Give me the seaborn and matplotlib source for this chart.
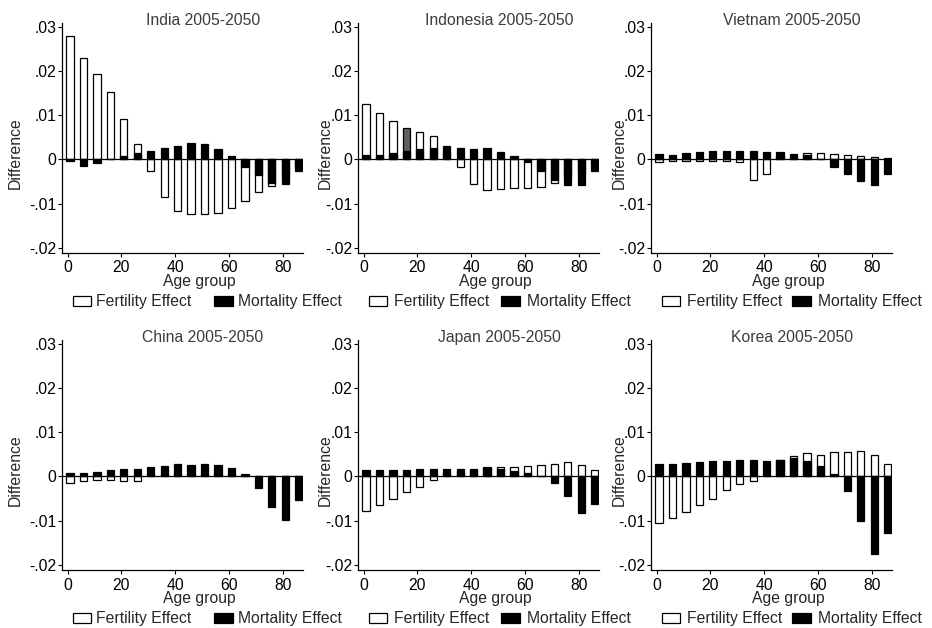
import numpy as np
import matplotlib
matplotlib.use("Agg")
import matplotlib.pyplot as plt
from matplotlib.patches import Patch
import seaborn as sns

# age groups (start of each 5-year band)
ages = [0, 5, 10, 15, 20, 25, 30, 35, 40, 45, 50, 55, 60, 65, 70, 75, 80, 85]

india_fert = [0.0279, 0.0229, 0.0194, 0.0152, 0.0092, 0.0034, -0.0025, -0.0084, -0.0117,
              -0.0123, -0.0123, -0.0120, -0.0109, -0.0094, -0.0074, -0.0059, -0.0040, -0.0015]
india_mort = [-0.0004, -0.0014, -0.0008, 0.0002, 0.0009, 0.0014, 0.0020, 0.0026, 0.0030,
              0.0038, 0.0035, 0.0024, 0.0007, -0.0017, -0.0036, -0.0054, -0.0055, -0.0027]

indonesia_fert = [0.0125, 0.0105, 0.0086, 0.0071, 0.0062, 0.0053, 0.0015, -0.0018, -0.0056,
                  -0.0069, -0.0067, -0.0065, -0.0065, -0.0062, -0.0053, -0.0040, -0.0030, -0.0010]
indonesia_mort = [0.0011, 0.0010, 0.0014, 0.0019, 0.0023, 0.0025, 0.0030, 0.0026, 0.0024,
                  0.0025, 0.0017, 0.0008, -0.0006, -0.0026, -0.0047, -0.0058, -0.0058, -0.0026]

vietnam_fert = [-0.0005, -0.0003, -0.0003, -0.0003, -0.0003, -0.0003, -0.0005, -0.0047, -0.0033,
                0.0008, 0.0006, 0.0014, 0.0014, 0.0012, 0.0011, 0.0009, 0.0006, 0.0003]
vietnam_mort = [0.0012, 0.0011, 0.0014, 0.0016, 0.0019, 0.0019, 0.0020, 0.0020, 0.0017,
                0.0017, 0.0013, 0.0010, 0.0001, -0.0017, -0.0032, -0.0049, -0.0058, -0.0032]

china_fert = [-0.0014, -0.0011, -0.0009, -0.0008, -0.0010, -0.0011, 0.0005, 0.0005, 0.0005,
              0.0005, 0.0005, 0.0005, 0.0005, 0.0002, 0.0, 0.0, 0.0, 0.0]
china_mort = [0.0008, 0.0008, 0.0011, 0.0014, 0.0016, 0.0017, 0.0021, 0.0023, 0.0028,
              0.0027, 0.0029, 0.0027, 0.0019, 0.0005, -0.0026, -0.0069, -0.0099, -0.0053]

japan_fert = [-0.0078, -0.0065, -0.0050, -0.0035, -0.0023, -0.0007, 0.0010, 0.0012, 0.0015,
              0.0021, 0.0022, 0.0022, 0.0023, 0.0026, 0.0029, 0.0032, 0.0026, 0.0014]
japan_mort = [0.0014, 0.0014, 0.0015, 0.0015, 0.0017, 0.0018, 0.0018, 0.0018, 0.0018,
              0.0020, 0.0016, 0.0013, 0.0009, 0.0001, -0.0014, -0.0044, -0.0082, -0.0061]

korea_fert = [-0.0106, -0.0093, -0.0079, -0.0064, -0.0050, -0.0031, -0.0016, -0.0010, 0.0002,
              0.0038, 0.0047, 0.0053, 0.0049, 0.0056, 0.0055, 0.0057, 0.0049, 0.0028]
korea_mort = [0.0029, 0.0029, 0.0031, 0.0032, 0.0035, 0.0036, 0.0037, 0.0037, 0.0035,
              0.0038, 0.0041, 0.0035, 0.0024, 0.0005, -0.0032, -0.0101, -0.0175, -0.0128]

panels = [
    ("India 2005-2050", india_fert, india_mort),
    ("Indonesia 2005-2050", indonesia_fert, indonesia_mort),
    ("Vietnam 2005-2050", vietnam_fert, vietnam_mort),
    ("China 2005-2050", china_fert, china_mort),
    ("Japan 2005-2050", japan_fert, japan_mort),
    ("Korea 2005-2050", korea_fert, korea_mort),
]

y_ticks = [-0.02, -0.01, 0, 0.01, 0.02, 0.03]
y_tick_labels = ["-.02", "-.01", "0", ".01", ".02", ".03"]
x_ticks = [0, 20, 40, 60, 80]

# the odd grey-filled bar in the Indonesia panel (age group 15)
grey_bars = {"Indonesia 2005-2050": [3]}

sns.set_style("ticks")
plt.rcParams['font.family'] = ['Liberation Sans', 'DejaVu Sans']

W, H = 932, 628
fig = plt.figure(figsize=(W / 100, H / 100), dpi=100)

lefts = [62, 358, 651]
tops = [23, 340]
ax_w, ax_h = 241, 230
ylab_x = [-0.195, -0.1375, -0.133]
col_space = [1.45, 0.7, 0.6]
text_pad = [0.32, 0.45, 0.45]
bar_shift = 0.9
lw = 0.9
fs = 11.3

for i, (title, fert, mort) in enumerate(panels):
    r, c = divmod(i, 3)
    ax = fig.add_axes([lefts[c] / W, 1 - (tops[r] + ax_h) / H, ax_w / W, ax_h / H])
    x = np.array(ages) + bar_shift

    sns.barplot(x=x, y=fert, native_scale=True, width=0.54, color="white",
                edgecolor="black", linewidth=lw, saturation=1, errorbar=None, ax=ax)
    for k in grey_bars.get(title, []):
        ax.containers[0][k].set_facecolor("#606060")
    sns.barplot(x=x, y=mort, native_scale=True, width=0.54, color="black",
                edgecolor="black", linewidth=lw, saturation=1, errorbar=None, ax=ax)

    ax.axhline(0, color="black", lw=lw, zorder=3)
    ax.set_xlim(-2.1, 87.5)
    ax.set_ylim(-0.0211, 0.0308)
    ax.set_xticks(x_ticks)
    ax.set_yticks(y_ticks, labels=y_tick_labels)
    ax.tick_params(direction="out", length=3, width=0.8, colors="black", labelsize=fs)
    ax.tick_params(axis="x", pad=2.4)
    ax.tick_params(axis="y", pad=1.0)
    for side in ["top", "right"]:
        ax.spines[side].set_visible(False)
    for side in ["left", "bottom"]:
        ax.spines[side].set_color("black")
        ax.spines[side].set_linewidth(lw)

    ax.text(0.585, 0.99, title, transform=ax.transAxes, ha="center", va="baseline",
            fontsize=fs, color="#3c3c3c")
    ax.set_xlabel("Age group", fontsize=fs)
    ax.xaxis.set_label_coords(0.57, -0.125)
    ax.xaxis.label.set_va("center")
    ax.set_ylabel("Difference", fontsize=fs)
    ax.yaxis.set_label_coords(ylab_x[c], 0.435)
    ax.yaxis.label.set_va("center")

    handles = [Patch(facecolor="white", edgecolor="black", lw=lw, label="Fertility Effect"),
               Patch(facecolor="black", edgecolor="black", lw=lw, label="Mortality Effect")]
    ax.legend(handles=handles, loc="center left", bbox_to_anchor=(0.044, -0.213), ncol=2,
              frameon=False, fontsize=fs, handlelength=1.2, handleheight=0.62,
              handletextpad=text_pad[c], columnspacing=col_space[c], borderpad=0,
              borderaxespad=0)

fig.savefig("out.png", dpi=100)
